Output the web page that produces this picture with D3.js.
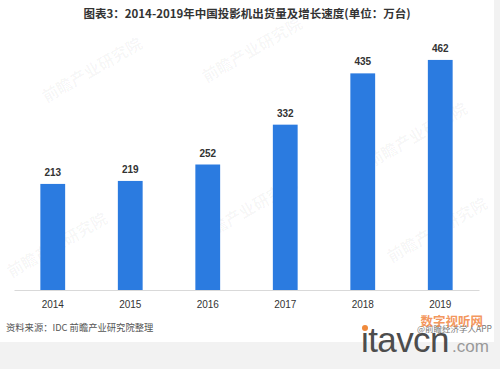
<!DOCTYPE html>
<html>
<head>
<meta charset="utf-8">
<script src="https://cdn.jsdelivr.net/npm/d3@7"></script>
<style>
  body { margin: 0; background: #f2f2f2; }
  #chart { width: 500px; height: 369px; }
</style>
</head>
<body>
<div id="chart"></div>
<script>
(function() {

    var years = ["2014", "2015", "2016", "2017", "2018", "2019"];
    var shipments = [213, 219, 252, 332, 435, 462];

    var width = 500,
        height = 369,
        margin = {top: 41, left: 14, right: 21, bottom: 79};

    var svg = d3.select("#chart")
            .append("svg")
            .attr("width", width)
            .attr("height", height)
            .style("font-family", "'Liberation Sans', Arial, 'Noto Sans CJK SC', sans-serif");

    // white card behind the chart
    svg.append("rect")
        .attr("width", 494)
        .attr("height", 342)
        .attr("fill", "#fff");

    // faint watermarks
    var marks = [[95, 75], [255, 55], [60, 250], [250, 215], [420, 140], [440, 235]];
    svg.selectAll(".wm")
        .data(marks)
        .enter().append("text")
        .attr("class", "wm")
        .attr("transform", function(d) { return "translate(" + d[0] + "," + d[1] + ") rotate(-30)"; })
        .attr("text-anchor", "middle")
        .attr("font-family", "'Noto Sans CJK SC', sans-serif")
        .attr("font-size", 16)
        .attr("font-weight", "bold")
        .attr("fill", "#000")
        .attr("fill-opacity", 0.04)
        .text("前瞻产业研究院");

    var x = d3.scaleBand()
        .domain(years)
        .range([margin.left, width - margin.right])
        .paddingInner(0.68)
        .paddingOuter(0.34);

    var y = d3.scaleLinear()
        .domain([0, 500])
        .range([height - margin.bottom, margin.top]);

    // title
    svg.append("text")
        .attr("x", 247)
        .attr("y", 18)
        .attr("text-anchor", "middle")
        .attr("font-family", "'Noto Sans CJK SC', sans-serif")
        .attr("font-size", 11.5)
        .attr("font-weight", "bold")
        .attr("fill", "#333")
        .text("图表3：2014-2019年中国投影机出货量及增长速度(单位：万台)");

    // bars
    svg.selectAll(".bar")
        .data(shipments)
        .enter().append("rect")
        .attr("class", "bar")
        .attr("x", function(d, i) { return x(years[i]); })
        .attr("y", function(d) { return y(d); })
        .attr("width", x.bandwidth())
        .attr("height", function(d) { return y(0) - y(d); })
        .attr("fill", "#2b7be0");

    // value labels
    svg.selectAll(".val")
        .data(shipments)
        .enter().append("text")
        .attr("class", "val")
        .attr("x", function(d, i) { return x(years[i]) + x.bandwidth() / 2; })
        .attr("y", function(d) { return y(d) - 8; })
        .attr("text-anchor", "middle")
        .attr("font-size", 10)
        .attr("font-weight", "bold")
        .attr("fill", "#333")
        .text(function(d) { return d; });

    // x axis
    var xAxis = svg.append("g")
        .attr("transform", "translate(0," + y(0) + ")")
        .call(d3.axisBottom(x).tickSize(0).tickPadding(11));

    xAxis.select(".domain").attr("stroke", "#d9d9d9");
    xAxis.selectAll("text")
        .attr("font-size", 10)
        .attr("font-family", "'Liberation Sans', Arial, sans-serif")
        .attr("fill", "#333");

    // source
    svg.append("text")
        .attr("x", 6)
        .attr("y", 331)
        .attr("font-family", "'Noto Sans CJK SC', sans-serif")
        .attr("font-size", 9.3)
        .attr("fill", "#555")
        .text("资料来源：IDC 前瞻产业研究院整理");

    svg.append("text")
        .attr("x", 492)
        .attr("y", 332)
        .attr("text-anchor", "end")
        .attr("font-family", "'Noto Sans CJK SC', sans-serif")
        .attr("font-size", 8.5)
        .attr("fill", "#777")
        .text("@前瞻经济学人APP");

    // site logo
    svg.append("text")
        .attr("x", 483)
        .attr("y", 326)
        .attr("text-anchor", "end")
        .attr("font-family", "'Noto Sans CJK SC', sans-serif")
        .attr("font-size", 12.5)
        .attr("font-weight", "bold")
        .attr("fill", "#f28a4a")
        .attr("fill-opacity", 0.9)
        .text("数字视听网");

    svg.append("text")
        .attr("x", 361)
        .attr("y", 352)
        .attr("font-family", "'Liberation Sans', Arial, sans-serif")
        .attr("font-size", 35)
        .attr("fill", "#4d4d4d")
        .attr("letter-spacing", -0.6)
        .text("itavcn");

    svg.append("circle")
        .attr("cx", 365)
        .attr("cy", 328)
        .attr("r", 3)
        .attr("fill", "#f08a3c");

    svg.append("text")
        .attr("x", 452)
        .attr("y", 352)
        .attr("font-family", "'Liberation Sans', Arial, sans-serif")
        .attr("font-size", 17)
        .attr("fill", "#999")
        .text(".com");

})();
</script>
</body>
</html>
